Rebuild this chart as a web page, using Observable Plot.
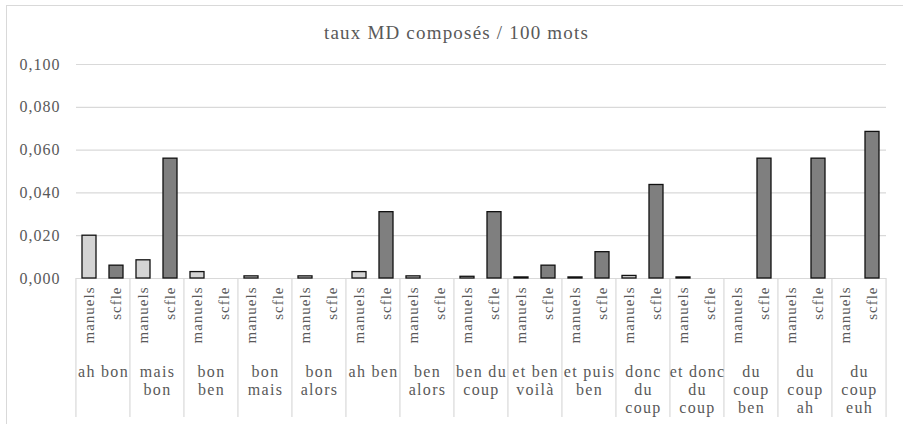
<!DOCTYPE html>
<html><head><meta charset="utf-8">
<script src="https://cdn.jsdelivr.net/npm/d3@7"></script>
<script src="https://cdn.jsdelivr.net/npm/@observablehq/plot@0.6"></script>
<style>
body{margin:0;background:#fff;}
#wrap{position:relative;width:903px;height:424px;overflow:hidden;font-family:"Liberation Serif",Tinos,"Times New Roman","DejaVu Serif",serif;}
#frame{position:absolute;left:6px;top:5px;width:1000px;height:1000px;border:1.5px solid #d9d9d9;box-sizing:border-box;}
#title{position:absolute;left:0;width:913px;top:23px;line-height:1;text-align:center;font-size:19px;color:#595959;letter-spacing:1.2px;}
#chart{position:absolute;left:0;top:0;}
#chart svg, #chart svg text{font-family:"Liberation Serif",Tinos,"Times New Roman","DejaVu Serif",serif !important;}
g[aria-label="y-axis tick label"] text{letter-spacing:1px;}
g[aria-label="x-axis tick label"] text{letter-spacing:1px;}
g[aria-label="fx-axis tick label"] text{letter-spacing:1.3px;}
</style></head><body>
<div id="wrap"><div id="frame"></div><div id="title">taux MD composés / 100 mots</div><div id="chart"></div></div>
<script>
const groups = ["ah bon","mais bon","bon ben","bon mais","bon alors","ah ben","ben alors","ben du coup","et ben voilà","et puis ben","donc du coup","et donc du coup","du coup ben","du coup ah","du coup euh"];
const groupLabels = ["ah bon","mais\nbon","bon\nben","bon\nmais","bon\nalors","ah ben","ben\nalors","ben du\ncoup","et ben\nvoilà","et puis\nben","donc\ndu\ncoup","et donc\ndu\ncoup","du\ncoup\nben","du\ncoup\nah","du\ncoup\neuh"];
const series = ["manuels","scfle"];
const manuels = [0.020,0.0085,0.003,0.001,0.001,0.003,0.001,0.0008,0.0005,0.0005,0.0012,0.0005,0,0,0];
const scfle = [0.006,0.056,0,0,0,0.031,0,0.031,0.006,0.0123,0.0437,0,0.056,0.056,0.0685];
const yTicks = [0,0.02,0.04,0.06,0.08,0.1];

const data = groups.flatMap((g,i)=>[
  {group:g, series:"manuels", value:manuels[i]},
  {group:g, series:"scfle", value:scfle[i]}
]);

const W=903, H=424, ML=74, MR=15, MT=64, MB=146;
const groupW = (W-ML-MR)/groups.length;
const dividerDrop = 139;
const serif = '"Liberation Serif",Tinos,"Times New Roman","DejaVu Serif",serif';

const chart = Plot.plot({
  width: W, height: H,
  marginLeft: ML, marginRight: MR, marginTop: MT, marginBottom: MB,
  style: {fontFamily: serif, background: "transparent", color: "#595959"},
  fx: {domain: groups, padding: 0},
  x: {domain: series, paddingInner: 0.48, paddingOuter: 0.24},
  y: {domain: [0, 0.1]},
  color: {domain: series, range: ["#d4d4d4", "#7f7f7f"]},
  marks: [
    Plot.gridY(yTicks, {stroke: "#d9d9d9", strokeOpacity: 1, strokeWidth: 1.2}),
    Plot.ruleX(groups, {fx: d=>d, x: ()=>"manuels", y1: ()=>0, dx: -groupW/4, insetBottom: -dividerDrop, stroke: "#d9d9d9", strokeWidth: 1.2}),
    Plot.ruleX(groups.slice(-1), {fx: d=>d, x: ()=>"scfle", y1: ()=>0, dx: groupW/4, insetBottom: -dividerDrop, stroke: "#d9d9d9", strokeWidth: 1.2}),
    Plot.barY(data.filter(d=>d.value>0), {fx: "group", x: "series", y: "value", fill: "series", stroke: "#111", strokeWidth: 1.3}),
    Plot.axisY({ticks: yTicks, tickFormat: d=>d.toFixed(3).replace(".", ","), tickSize: 0, tickPadding: 16, fontSize: 16, fontFamily: serif, fill: "#595959", label: null}),
    Plot.axisX({anchor: "bottom", tickRotate: -90, tickSize: 0, tickPadding: 8, fontSize: 15, fontFamily: serif, fill: "#595959", label: null}),
    Plot.axisFx({anchor: "bottom", tickSize: 0, tickPadding: 85, fontSize: 16, fontFamily: serif, lineHeight: 1.15, fill: "#595959", label: null,
      tickFormat: g=>groupLabels[groups.indexOf(g)]})
  ]
});
document.getElementById("chart").appendChild(chart);
</script>
</body></html>
